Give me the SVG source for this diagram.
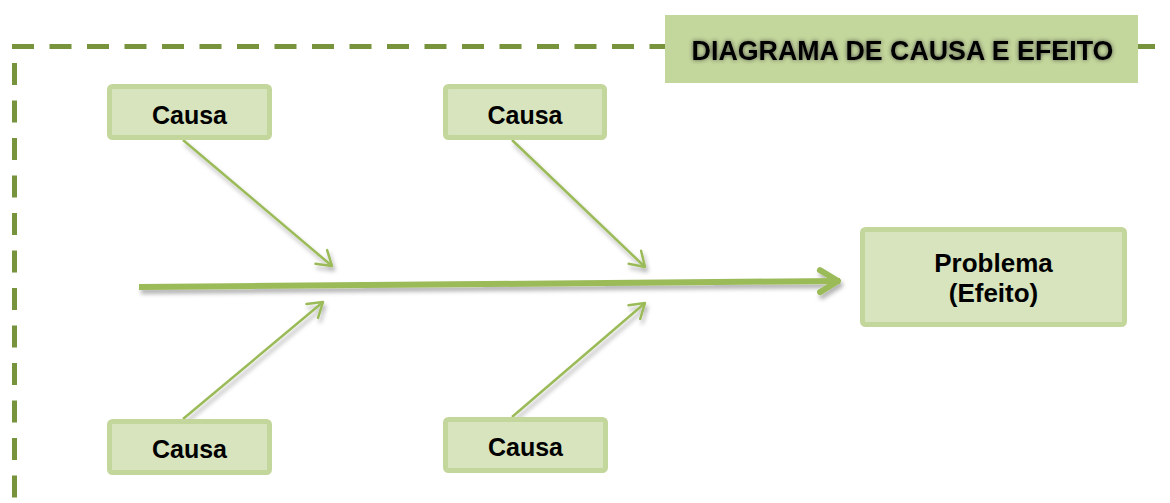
<svg xmlns="http://www.w3.org/2000/svg" width="1170" height="503" viewBox="0 0 1170 503">
  <style>
    .box { fill: #D7E4BD; stroke: #C3D69B; stroke-width: 5; }
    .lbl { font-family: "Liberation Sans", Arial, sans-serif; font-weight: bold; fill: #000; text-anchor: middle; }
    .border { stroke: #77933C; stroke-width: 5; stroke-dasharray: 22 15.5; fill: none; }
    .branch { stroke: #9BBB59; stroke-width: 2.5; fill: none; marker-end: url(#chev); }
    .spine { stroke: #9BBB59; stroke-width: 6; fill: none; marker-end: url(#chevBig); }
  </style>
  <defs>
    <filter id="sh" x="-20%" y="-50%" width="140%" height="200%">
      <feDropShadow dx="2" dy="4" stdDeviation="2" flood-color="#000" flood-opacity="0.3"/>
    </filter>
    <filter id="glow" x="-10%" y="-50%" width="120%" height="200%">
      <feGaussianBlur in="SourceAlpha" stdDeviation="2" result="b"/>
      <feFlood flood-color="#333" flood-opacity="0.8"/>
      <feComposite in2="b" operator="in" result="g"/>
      <feMerge><feMergeNode in="g"/><feMergeNode in="SourceGraphic"/></feMerge>
    </filter>
    <marker id="chev" markerUnits="userSpaceOnUse" markerWidth="40" markerHeight="40" refX="20" refY="20" orient="auto" overflow="visible">
      <path d="M6,11 L20,20 L6,29" fill="none" stroke="#9BBB59" stroke-width="2.5" stroke-linecap="round" stroke-linejoin="round"/>
    </marker>
    <marker id="chevBig" markerUnits="userSpaceOnUse" markerWidth="50" markerHeight="50" refX="25" refY="25" orient="auto" overflow="visible">
      <path d="M5,14 L23,25 L5,36" fill="none" stroke="#9BBB59" stroke-width="6" stroke-linecap="round" stroke-linejoin="round"/>
    </marker>
  </defs>

  <g id="frame">
    <line class="border" x1="12" y1="46.5" x2="1155" y2="46.5"/>
    <line class="border" x1="14.5" y1="63" x2="14.5" y2="503"/>
  </g>

  <g id="title">
    <rect x="665" y="15" width="473" height="68" fill="#C3D69B"/>
    <text class="lbl" x="902.5" y="59.5" font-size="26.8" filter="url(#glow)">DIAGRAMA DE CAUSA E EFEITO</text>
  </g>

  <g id="connectors" filter="url(#sh)">
    <line class="spine" x1="139" y1="287" x2="840" y2="281"/>
    <line class="branch" x1="183" y1="140" x2="332" y2="266"/>
    <line class="branch" x1="512" y1="140" x2="645" y2="267"/>
    <line class="branch" x1="183" y1="419" x2="323" y2="302"/>
    <line class="branch" x1="512" y1="417" x2="645" y2="303"/>
  </g>

  <g id="causa1">
    <rect class="box" x="109.5" y="86.5" width="160" height="51" rx="3"/>
    <text class="lbl" x="189.5" y="124" font-size="25">Causa</text>
  </g>
  <g id="causa2">
    <rect class="box" x="445.5" y="86.5" width="159" height="51" rx="3"/>
    <text class="lbl" x="525" y="124" font-size="25">Causa</text>
  </g>
  <g id="causa3">
    <rect class="box" x="109.5" y="421.5" width="160" height="51" rx="3"/>
    <text class="lbl" x="189.5" y="458" font-size="25">Causa</text>
  </g>
  <g id="causa4">
    <rect class="box" x="445.5" y="419.5" width="160" height="51" rx="3"/>
    <text class="lbl" x="525.5" y="456" font-size="25">Causa</text>
  </g>
  <g id="problema">
    <rect class="box" x="862.5" y="229.5" width="262" height="95" rx="3"/>
    <text class="lbl" x="993.5" y="272" font-size="26">Problema</text>
    <text class="lbl" x="993.5" y="302" font-size="26">(Efeito)</text>
  </g>
</svg>
